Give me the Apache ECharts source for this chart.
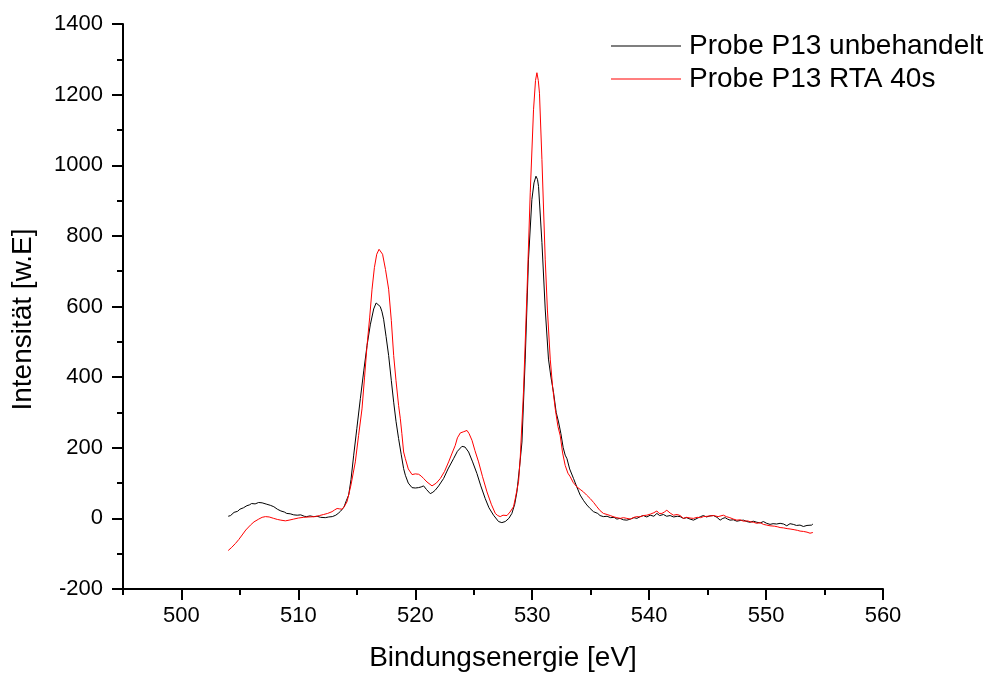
<!DOCTYPE html>
<html>
<head>
<meta charset="utf-8">
<script src="https://cdn.jsdelivr.net/npm/echarts@6/dist/echarts.min.js"></script>
<style>
html,body{margin:0;padding:0;background:#fff;}
#chart{width:990px;height:677px;}
</style>
</head>
<body>
<div id="chart"></div>
<script>
const seriesNames = ['Probe P13 unbehandelt', 'Probe P13 RTA 40s'];
const xMajorTicks = [500, 510, 520, 530, 540, 550, 560];
const xMinorTicks = [495, 505, 515, 525, 535, 545, 555];

const blackEnergy = [504.0,504.2,504.5,504.8,505.0,505.3,505.6,505.8,506.0,506.3,506.6,506.9,507.3,507.6,507.9,508.2,508.5,508.8,509.0,509.3,509.6,509.9,510.2,510.5,510.7,511.0,511.3,511.6,511.9,512.3,512.6,512.9,513.2,513.4,513.6,513.9,514.1,514.3,514.5,514.73,515.0,515.3,515.6,515.87,516.15,516.44,516.65,516.8,517.0,517.15,517.29,517.5,517.72,517.95,518.15,518.35,518.57,518.8,519.0,519.15,519.4,519.72,520.0,520.26,520.5,520.71,520.95,521.28,521.5,521.71,522.0,522.42,522.8,523.27,523.6,523.99,524.25,524.56,524.9,525.27,525.6,525.98,526.3,526.69,527.12,527.4,527.69,528.0,528.26,528.5,528.69,528.9,529.12,529.4,529.68,529.97,530.15,530.32,530.45,530.54,530.83,531.11,531.39,531.6,531.82,532.05,532.25,532.45,532.65,532.82,532.97,533.2,533.53,533.8,534.1,534.4,534.67,534.95,535.24,535.6,535.8,536.09,536.4,536.7,537.0,537.24,537.5,537.8,538.09,538.4,538.7,538.95,539.23,539.5,539.8,540.09,540.4,540.66,540.9,541.22,541.5,541.79,542.1,542.4,542.65,542.93,543.2,543.5,543.79,544.1,544.4,544.64,544.9,545.2,545.5,545.8,546.07,546.3,546.5,546.7,546.92,547.2,547.5,547.8,548.06,548.35,548.63,548.9,549.21,549.5,549.77,550.05,550.34,550.6,550.9,551.2,551.5,551.77,552.05,552.33,552.6,552.9,553.19,553.5,553.9,554.0];
const blackIntensity = [6,8,17,20,26,30,36,38,42,41,45,44,40,37,33,26,21,18,14,13,10,9,10,6,5,7,5,6,3,2,4,5,9,14,20,32,50,66,110,179,255,339,420,489,548,593,610,612,600,585,564,515,461,390,329,275,226,180,141,122,100,87,86,87,89,92,82,70,74,80,92,113,140,169,190,204,202,188,160,127,92,56,30,9,-9,-12,-9,0,14,40,75,140,216,451,734,903,950,969,960,940,781,593,451,400,357,300,273,240,200,179,169,140,113,90,66,50,38,28,19,14,8,5,6,2,3,-2,0,-4,-5,-2,2,0,5,8,4,9,6,14,8,11,6,8,4,6,5,0,2,-2,-5,0,5,8,4,7,8,3,-5,0,2,-2,-5,-4,-8,-6,-5,-9,-11,-8,-11,-13,-9,-14,-17,-15,-16,-14,-16,-21,-15,-17,-20,-19,-23,-20,-19,-16];

const redEnergy = [504.0,504.3,504.62,504.9,505.19,505.5,505.9,506.2,506.61,506.9,507.18,507.5,507.89,508.2,508.5,508.89,509.2,509.6,510.0,510.45,510.9,511.45,511.8,512.16,512.5,512.88,513.1,513.31,513.5,513.74,513.95,514.16,514.5,514.87,515.15,515.44,515.66,515.87,516.1,516.3,516.5,516.7,516.9,517.05,517.2,517.45,517.72,517.95,518.15,518.35,518.57,518.72,518.85,519.0,519.15,519.4,519.72,520.0,520.28,520.5,520.71,521.0,521.43,521.8,522.14,522.5,522.85,523.15,523.42,523.6,523.85,524.1,524.42,524.6,524.85,525.1,525.41,525.75,526.13,526.5,526.84,527.05,527.26,527.5,527.84,528.1,528.4,528.55,528.83,528.97,529.25,529.55,529.83,530.11,530.28,530.4,530.52,530.62,530.83,531.11,531.3,531.54,531.75,531.97,532.2,532.39,532.6,532.82,533.05,533.25,533.5,533.82,534.1,534.38,534.65,534.96,535.25,535.53,535.8,536.09,536.4,536.67,537.0,537.24,537.52,537.8,538.09,538.4,538.7,538.95,539.2,539.5,539.8,540.1,540.4,540.66,540.85,541.09,541.3,541.51,541.8,542.08,542.4,542.65,542.93,543.2,543.5,543.79,544.1,544.4,544.64,545.0,545.5,545.9,546.35,546.6,546.9,547.21,547.5,547.8,548.06,548.4,548.7,548.92,549.2,549.5,549.77,550.05,550.34,550.7,551.0,551.2,551.5,551.8,552.05,552.4,552.7,552.91,553.2,553.5,553.76,554.0];
const redIntensity = [-91,-82,-71,-60,-47,-33,-19,-10,-2,3,5,4,0,-3,-5,-7,-5,-2,1,3,4,5,8,11,14,19,24,28,27,26,35,47,95,160,235,310,400,489,570,649,710,748,762,760,748,705,649,560,461,390,320,282,240,188,169,140,124,126,125,120,113,103,92,100,113,133,160,185,207,228,242,245,249,240,221,192,160,118,75,40,14,8,5,9,8,18,33,56,104,169,357,640,922,1157,1240,1262,1240,1204,1016,734,590,451,370,310,260,235,185,150,128,118,102,89,82,75,66,56,45,33,22,14,11,8,4,2,0,2,0,-2,3,5,4,8,9,12,16,21,14,14,18,23,15,9,11,8,0,3,1,0,3,2,5,6,8,5,9,5,2,-2,-5,-4,-8,-7,-10,-11,-14,-12,-17,-19,-21,-22,-24,-26,-27,-29,-30,-32,-34,-36,-37,-39,-42,-40];

function zip(a, b) { return a.map((v, i) => [v, b[i]]); }

const FONT = "'Liberation Sans', Arial, sans-serif";
const chart = echarts.init(document.getElementById('chart'), null, {renderer: 'canvas'});
chart.setOption({
  animation: false,
  backgroundColor: '#ffffff',
  grid: {left: 123, top: 24, right: 107, bottom: 86, containLabel: false},
  legend: {
    orient: 'vertical',
    left: 606,
    top: 27,
    itemWidth: 70,
    itemHeight: 1,
    itemGap: 5,
    icon: 'rect',
    textStyle: {fontFamily: FONT, fontSize: 28, color: '#000', padding: [0, 0, 0, 3]},
    data: seriesNames
  },
  xAxis: [{
    type: 'value',
    min: 495,
    max: 560,
    name: 'Bindungsenergie [eV]',
    nameLocation: 'middle',
    nameGap: 55,
    nameTextStyle: {fontFamily: FONT, fontSize: 28, color: '#000'},
    splitLine: {show: false},
    axisLine: {show: true, onZero: false, lineStyle: {color: '#000', width: 2}},
    axisTick: {show: true, inside: false, length: 11, lineStyle: {color: '#000', width: 2}, customValues: xMajorTicks},
    axisLabel: {show: true, margin: 16, fontFamily: FONT, fontSize: 22, color: '#000', customValues: xMajorTicks}
  }, {
    type: 'value',
    min: 495,
    max: 560,
    position: 'bottom',
    splitLine: {show: false},
    axisLine: {show: false, onZero: false},
    axisTick: {show: true, inside: false, length: 6, lineStyle: {color: '#000', width: 2}, customValues: xMinorTicks},
    axisLabel: {show: false}
  }],
  yAxis: {
    type: 'value',
    min: -200,
    max: 1400,
    interval: 200,
    name: 'Intensität [w.E]',
    nameLocation: 'middle',
    nameRotate: 90,
    nameGap: 86,
    nameTextStyle: {fontFamily: FONT, fontSize: 28, color: '#000', padding: [0, 26, 0, 0]},
    splitLine: {show: false},
    minorSplitLine: {show: false},
    axisLine: {show: true, onZero: false, lineStyle: {color: '#000', width: 2}},
    axisTick: {show: true, inside: false, length: 11, lineStyle: {color: '#000', width: 2}},
    minorTick: {show: true, splitNumber: 2, length: 6, lineStyle: {color: '#000', width: 2}},
    axisLabel: {margin: 20, fontFamily: FONT, fontSize: 22, color: '#000', formatter: function (v) { return String(v); }}
  },
  series: [{
    name: seriesNames[0],
    type: 'line',
    xAxisIndex: 0,
    data: zip(blackEnergy, blackIntensity),
    showSymbol: false,
    symbol: 'none',
    lineStyle: {color: '#000000', width: 1},
    itemStyle: {color: '#000000'}
  }, {
    name: seriesNames[1],
    type: 'line',
    xAxisIndex: 0,
    data: zip(redEnergy, redIntensity),
    showSymbol: false,
    symbol: 'none',
    lineStyle: {color: '#ff0000', width: 1},
    itemStyle: {color: '#ff0000'}
  }]
});
</script>
</body>
</html>
